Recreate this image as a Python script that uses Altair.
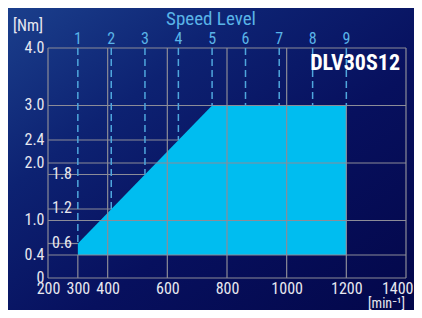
import altair as alt
import pandas as pd

# ---- data ----
speed_levels = [1, 2, 3, 4, 5, 6, 7, 8, 9]
level_speed = [300, 412, 525, 637, 750, 862, 975, 1087, 1200]
level_torque = [0.6, 1.2, 1.8, 2.4, 3.0, 3.0, 3.0, 3.0, 3.0]

curve_speed = [300, 750, 1200]
curve_torque = [0.6, 3.0, 3.0]
curve_base = [0.4, 0.4, 0.4]

x_ticks = [200, 300, 400, 600, 800, 1000, 1200, 1400]
y_ticks = [0, 0.4, 1.0, 2.0, 2.4, 3.0, 4.0]
inner_labels = [0.6, 1.2, 1.8]

# grid segments
vgrid_x = [200, 300, 400, 600, 800, 1000, 1200, 1400]
vgrid_top = [4.0, 0.4, 4.0, 4.0, 4.0, 4.0, 3.0, 4.0]
hgrid_y = [0, 0.4, 0.6, 1.0, 1.2, 1.8, 2.0, 2.4, 3.0, 4.0]
hgrid_end = [1400, 1400, 300, 1400, 412, 525, 1400, 637, 1400, 1400]

FONT = "Liberation Sans Narrow, Arial Narrow, Roboto Condensed, Liberation Sans, sans-serif"
WHITE = "#E8E8F0"
LBLUE = "#5AB4E8"
GRID = "#8C8C98"

W, H = 358, 230
PL, PT, PR, PB = 40, 40, 8, 32

xs = alt.Scale(domain=[200, 1400], nice=False, zero=False)
ys = alt.Scale(domain=[0, 4], nice=False, zero=False)

x_axis = alt.Axis(values=x_ticks, title=None, labelFontSize=16, labelColor=WHITE,
                  labelFont=FONT, labelPadding=2, domain=False, ticks=False, grid=False,
                  labelFlush=False, labelOverlap=False, zindex=2, format="d",
                  labelAlign={"condition": {"test": "datum.value == 1400", "value": "right"},
                              "value": "center"},
                  labelOffset={"condition": {"test": "datum.value == 1400", "value": 7},
                               "value": 0})
y_axis = alt.Axis(values=y_ticks, title=None, labelFontSize=16, labelColor=WHITE,
                  labelFont=FONT, labelPadding=4, domain=False, ticks=False, grid=False,
                  labelFlush=False, labelOverlap=False, labelOffset=-1, zindex=2,
                  labelExpr="datum.value == 0 ? '0' : format(datum.value, '.1f')")


def X(field):
    return alt.X(field, scale=xs, axis=x_axis, title=None)


def Y(field):
    return alt.Y(field, scale=ys, axis=y_axis, title=None)


curve_df = pd.DataFrame({"speed": curve_speed, "torque": curve_torque, "base": curve_base})
level_df = pd.DataFrame({"level": speed_levels, "speed": level_speed, "top": level_torque,
                         "ceil": [4.0] * len(speed_levels)})
vgrid_df = pd.DataFrame({"speed": vgrid_x, "torque": [0] * len(vgrid_x), "t2": vgrid_top})
hgrid_df = pd.DataFrame({"torque": hgrid_y, "speed": [200] * len(hgrid_y), "s2": hgrid_end})
inner_df = pd.DataFrame({"torque": inner_labels})
one = pd.DataFrame({"a": [0]})

bg = alt.Chart(one).mark_rect(
    color=alt.Gradient(
        gradient="linear",
        x1=0, y1=0, x2=1, y2=1,
        stops=[
            alt.GradientStop(color="#1B3F8C", offset=0),
            alt.GradientStop(color="#0D2272", offset=0.3),
            alt.GradientStop(color="#07105E", offset=0.6),
            alt.GradientStop(color="#03074A", offset=1),
        ],
    )
).encode(x=alt.value(-PL), x2=alt.value(W + PR), y=alt.value(-PT), y2=alt.value(H + PB))

area = alt.Chart(curve_df).mark_area(color="#00BDF0", opacity=1).encode(
    x=X("speed:Q"), y=Y("torque:Q"), y2="base:Q")

vgrid = alt.Chart(vgrid_df).mark_rule(color=GRID, strokeWidth=1.2).encode(
    x=X("speed:Q"), y=Y("torque:Q"), y2="t2:Q")

hgrid = alt.Chart(hgrid_df).mark_rule(color=GRID, strokeWidth=1.2).encode(
    x=X("speed:Q"), x2="s2:Q", y=Y("torque:Q"))

dashes = alt.Chart(level_df).mark_rule(color="#4FA6DD", strokeWidth=1.5, strokeDash=[7, 4]).encode(
    x=X("speed:Q"), y=Y("ceil:Q"), y2="top:Q")

level_text = alt.Chart(level_df).mark_text(
    color=LBLUE, font=FONT, fontSize=16, align="center", baseline="alphabetic"
).encode(x=X("speed:Q"), y=alt.value(-4), text="level:N")

inner_text = alt.Chart(inner_df).mark_text(
    color=WHITE, font=FONT, fontSize=16, align="left", baseline="middle", dx=4, dy=-1
).encode(x=alt.value(0), y=Y("torque:Q"), text=alt.Text("torque:Q", format=".1f"))


def label(txt, x, y, color=WHITE, size=16, align="left", weight="normal"):
    return alt.Chart(one).mark_text(
        text=txt, color=color, font=FONT, fontSize=size, align=align,
        baseline="alphabetic", fontWeight=weight
    ).encode(x=alt.value(x), y=alt.value(y))


speed_title = label("Speed Level", 163, -23, color=LBLUE, size=19, align="center")
nm = label("[Nm]", -5, -17, size=16, align="right")
unit = label("[min⁻¹]", 357, H + 30, size=14, align="right")
title = label("DLV30S12", 352, 22, color="#FFFFFF", size=22, align="right", weight="bold")

chart = alt.layer(
    bg, area, hgrid, vgrid, dashes, level_text, inner_text, speed_title, nm, unit, title
).properties(
    width=W, height=H,
    autosize=alt.AutoSizeParams(type="none"),
    padding={"left": PL, "top": PT, "right": PR, "bottom": PB},
    background="#0A1560",
).configure_view(stroke=None)

chart.save("out.html", embed_options={"renderer": "svg", "actions": False})
